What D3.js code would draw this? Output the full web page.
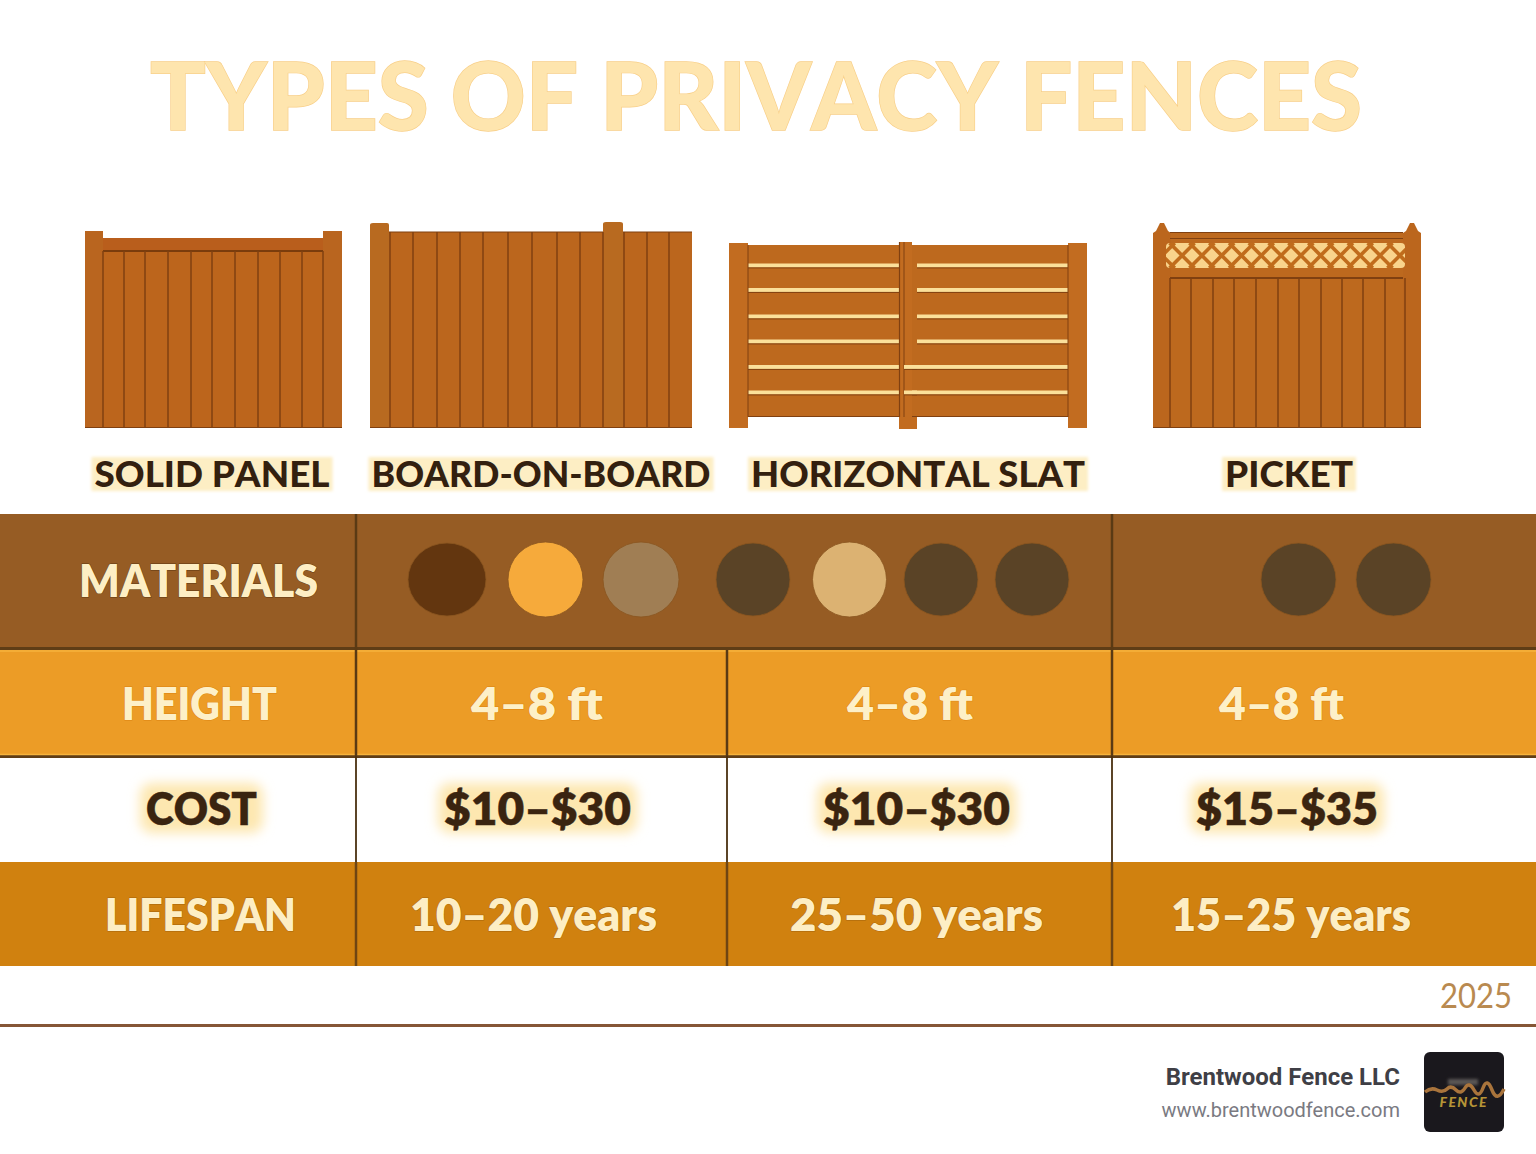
<!DOCTYPE html>
<html><head><meta charset="utf-8">
<script src="https://cdn.jsdelivr.net/npm/d3@7"></script>
<style>html,body{margin:0;padding:0;background:#fff}svg{display:block}text{font-family:Lato,sans-serif;font-kerning:none}</style>
</head><body><div id="c"></div>
<script>
const fenceTypes = ["SOLID PANEL","BOARD-ON-BOARD","HORIZONTAL SLAT","PICKET"];
const rowNames = ["MATERIALS","HEIGHT","COST","LIFESPAN"];
const heightValues = ["4–8 ft","4–8 ft","4–8 ft"];
const costValues = ["$10–$30","$10–$30","$15–$35"];
const lifespanValues = ["10–20 years","25–50 years","15–25 years"];
const materialSwatches = ["#63360f","#f6aa3b","#a07e54","#5a4326","#dcb272","#5a4326","#5a4326","#5a4326","#5a4326"];
const titleText = "TYPES OF PRIVACY FENCES";
const yearText = "2025";

const W=1536,H=1154;
const svg=d3.select("#c").append("svg").attr("width",W).attr("height",H).attr("viewBox",`0 0 ${W} ${H}`);
const defs=svg.append("defs");
defs.append("filter").attr("id","soft").attr("x","-20%").attr("y","-40%").attr("width","140%").attr("height","180%")
  .append("feGaussianBlur").attr("stdDeviation",1.6);
defs.append("filter").attr("id","glow").attr("x","-20%").attr("y","-40%").attr("width","140%").attr("height","180%")
  .append("feGaussianBlur").attr("stdDeviation",6);

const bg=svg.append("g"), gf=svg.append("g"), gt=svg.append("g"), gx=svg.append("g");

function label(g,s,cx,base,size,weight,fill,len,extra={}){
  const t=g.append("text").attr("x",cx).attr("y",base).attr("text-anchor","middle")
    .attr("font-size",size).attr("font-weight",weight).attr("fill",fill).text(s);
  if(len) t.attr("textLength",len).attr("lengthAdjust","spacingAndGlyphs");
  Object.entries(extra).forEach(([k,v])=>t.attr(k,v));
  return t;
}

// Title
label(gt,titleText,756,130,94,900,"#fee5ae",1212,{stroke:"#f8cf88","stroke-width":1.4,"paint-order":"stroke"});

// Fence drawing
const wood="#bc651c", seam="#804010", postC="#b9651f";
const rect=(g,x0,y0,x1,y1,fill)=>g.append("rect").attr("x",x0).attr("y",y0).attr("width",x1-x0).attr("height",y1-y0).attr("fill",fill);
const vline=(g,x,y0,y1,c=seam,w=1.5)=>g.append("line").attr("x1",x).attr("x2",x).attr("y1",y0).attr("y2",y1).attr("stroke",c).attr("stroke-width",w);
const hline=(g,x0,x1,y,c,w)=>g.append("line").attr("x1",x0).attr("x2",x1).attr("y1",y).attr("y2",y).attr("stroke",c).attr("stroke-width",w);
const FLOOR=428;

// Solid panel
(function(){const g=gf.append("g");
 rect(g,103,238,323,FLOOR,wood);
 rect(g,85,231,103,FLOOR,postC); rect(g,323,231,342,FLOOR,postC);
 rect(g,103,238,323,250,"#b95e1c");
 hline(g,103,323,251,"#7a3c0c",2);
 [103,124,145,168,191,212,235,258,280,302,323].forEach(x=>vline(g,x,251,FLOOR));
 hline(g,85,342,FLOOR-.5,seam,1);
})();
// Board on board
(function(){const g=gf.append("g");
 rect(g,389,232,692,FLOOR,"#bb661d");
 hline(g,389,692,232,seam,1.2);
 g.append("path").attr("d","M370 225q0-2 3-2h14q2 0 2 2V428H370Z").attr("fill","#b86a20");
 g.append("path").attr("d","M603 224q0-2 3-2h14q3 0 3 2V428H603Z").attr("fill","#b86a20");
 [390,413,437,460,483,508,532,557,580,603,624,647,669].forEach(x=>vline(g,x,232,FLOOR));
 hline(g,370,692,FLOOR-.5,seam,1);
})();
// Horizontal slat
(function(){const g=gf.append("g");
 rect(g,748,245,1068,417,"#bd691e");
 hline(g,748,1068,416.5,seam,1);
 const slats=[265.5,290,316.5,341.5,367,392.5];
 slats.forEach((y,i)=>{
   rect(g,748,y-2,900,y+2,"#fbe09a"); hline(g,748,900,y+2.4,seam,1);
   const x0=i<4?917:904;
   rect(g,x0,y-2,1068,y+2,"#fbe09a"); hline(g,x0,1068,y+2.4,seam,1);
 });
 rect(g,729,243,748,FLOOR,"#c26c20"); rect(g,1068,243,1087,FLOOR,"#c26c20");
 vline(g,748,245,417,seam,1); vline(g,1068,245,417,seam,1);
 rect(g,900,242,912,417,"#c26c20"); rect(g,899,417,917,429,"#c26c20");
 vline(g,899.5,242,417,seam,1.2); vline(g,904,242,417,seam,1);
 slats.slice(4).forEach(y=>{rect(g,904,y-2,917,y+2,"#fbe09a"); hline(g,904,917,y+2.4,seam,1);});
})();
// Picket
(function(){const g=gf.append("g");
 rect(g,1170,232,1403,FLOOR,"#bd691e");
 const clipId="lat"; defs.append("clipPath").attr("id",clipId).append("rect").attr("x",1166).attr("y",243).attr("width",239).attr("height",25).attr("rx",4);
 const post=x=>`M${x} 233l3-2 4-8h4l4 8 3 2V428H${x}Z`;
 g.append("path").attr("d",post(1153)).attr("fill","#bb661d");
 g.append("path").attr("d",post(1403)).attr("fill","#bb661d");
 const lat=g.append("g").attr("clip-path",`url(#${clipId})`);
 rect(lat,1166,243,1405,268,"#f9d48c");
 d3.range(1130,1450,19.8).forEach(x=>{
   lat.append("line").attr("x1",x).attr("y1",243).attr("x2",x+25).attr("y2",268).attr("stroke","#c06c1c").attr("stroke-width",3.6);
   lat.append("line").attr("x1",x+25).attr("y1",243).attr("x2",x).attr("y2",268).attr("stroke","#c06c1c").attr("stroke-width",3.6);
 });
 hline(g,1170,1403,238.5,seam,1.2); hline(g,1170,1403,232.5,seam,1);
 hline(g,1170,1403,278,seam,1.8);
 [1170,1191,1213,1234,1256,1278,1299,1321,1342,1363,1385,1405].forEach(x=>vline(g,x,278,FLOOR));
 hline(g,1153,1421,FLOOR-.5,seam,1);
})();

// Fence labels
const typeX=d3.scaleOrdinal(fenceTypes,[212,541,918,1289]);
const typeLen=d3.scaleOrdinal(fenceTypes,[235,339,334,128]);
const lab=gt.append("g");
fenceTypes.forEach(t=>{
  const x=typeX(t),l=typeLen(t);
  lab.append("rect").attr("x",x-l/2-3).attr("y",457).attr("width",l+6).attr("height",34).attr("fill","#fdeec4").attr("filter","url(#soft)");
  label(lab,t,x,487,36,900,"#33200f",l);
});

// Table
const rowY=d3.scaleOrdinal(rowNames,[514,650,758,862]);
const rowH=d3.scaleOrdinal(rowNames,[133,105,104,104]);
const rowFill=d3.scaleOrdinal(rowNames,["#965c24","#ec9c26","#ffffff","#d0810f"]);
const rowBase=d3.scaleOrdinal(rowNames,[597,720,825,931]);
const rowText=d3.scaleOrdinal(rowNames,["#fdeec4","#fdf0c8","#3a2410","#fdeec4"]);
const rowStroke=d3.scaleOrdinal(rowNames,["#5f3a12","#dd8410","#3a2410","#a9650c"]);
rowNames.forEach(r=>bg.append("rect").attr("x",0).attr("y",rowY(r)).attr("width",W).attr("height",rowH(r)).attr("fill",rowFill(r)));
hline(bg,0,W,648.5,"#5f3d16",3);
hline(bg,0,W,756.5,"#5f3d16",3);
hline(bg,0,W,651,"#f7b33c",1.5); hline(bg,0,W,754.5,"#f7b33c",1.5);
[356,1112].forEach(x=>{vline(bg,x,514,756,"#5a3a14",2.5);vline(bg,x,756,862,"#4a3010",1.8);vline(bg,x,862,966,"#6e4513",2.5);});
vline(bg,727,650,756,"#5a3a14",2.5);vline(bg,727,756,862,"#4a3010",1.8);vline(bg,727,862,966,"#6e4513",2.5);

const headLen=d3.scaleOrdinal(rowNames,[239,155,111,191]);
const headX=d3.scaleOrdinal(rowNames,[198.5,199.5,201.5,200.5]);
const size=45;
function halo(x,l,base){
  gt.append("rect").attr("x",x-l/2-6).attr("y",base-42).attr("width",l+12).attr("height",50).attr("rx",12).attr("fill","#fde7b0").attr("filter","url(#glow)");
}
const txtStroke=r=>({stroke:rowStroke(r),"stroke-width":r==="COST"?0.4:1,"paint-order":"stroke"});
halo(headX("COST"),headLen("COST"),rowBase("COST"));
rowNames.forEach(r=>label(gt,r,headX(r),rowBase(r),size,800,rowText(r),headLen(r),txtStroke(r)));

const cols=[0,1,2];
const hX=d3.scaleOrdinal(cols,[537,910,1281.5]), hL=d3.scaleOrdinal(cols,[132,126,125]);
const cX=d3.scaleOrdinal(cols,[537.5,916.5,1287]), cL=d3.scaleOrdinal(cols,[187,187,182]);
const lX=d3.scaleOrdinal(cols,[533.5,916.5,1291]), lL=d3.scaleOrdinal(cols,[247,253,240]);
cols.forEach(i=>{
  label(gt,heightValues[i],hX(i),rowBase("HEIGHT"),size,800,"#fdf0c8",hL(i),txtStroke("HEIGHT"));
  halo(cX(i),cL(i),rowBase("COST"));
  label(gt,costValues[i],cX(i),rowBase("COST"),size,800,"#3a2410",cL(i),txtStroke("COST"));
  label(gt,lifespanValues[i],lX(i),rowBase("LIFESPAN"),size,800,"#fdeec4",lL(i),txtStroke("LIFESPAN"));
});

// Material swatches
const swIdx=d3.range(materialSwatches.length);
const swX=d3.scaleOrdinal(swIdx,[447,545.5,641,753,849.5,941,1032,1298.5,1393.5]);
const swRx=d3.scaleOrdinal(swIdx,[39,37.5,38,37,37,37,37,37.5,37.5]);
const swRy=d3.scaleOrdinal(swIdx,[36.5,37.5,37.5,36.5,37.5,36.5,36.5,36.5,36.5]);
gx.selectAll("ellipse.sw").data(swIdx).join("ellipse").attr("class","sw")
  .attr("cx",swX).attr("cy",579.5).attr("rx",swRx).attr("ry",swRy).attr("fill",d=>materialSwatches[d])
  .attr("stroke","#8a5520").attr("stroke-width",0.8);

// Footer
label(gt,yearText,1476,1008,34,400,"#b98a50",72);
hline(bg,0,W,1025.5,"#855636",3);
gt.append("text").attr("x",1400).attr("y",1085).attr("text-anchor","end").attr("font-size",24).attr("font-weight",700).attr("fill","#3f3f46").style("font-family","Roboto").style("font-kerning","normal").text("Brentwood Fence LLC");
gt.append("text").attr("x",1400).attr("y",1117).attr("text-anchor","end").attr("font-size",20).attr("font-weight",400).attr("fill","#7a7a82").style("font-family","Roboto").style("font-kerning","normal").text("www.brentwoodfence.com");
gx.append("rect").attr("x",1424).attr("y",1052).attr("width",80).attr("height",80).attr("rx",6).attr("fill","#1a181d");
gx.append("rect").attr("x",1448).attr("y",1079).attr("width",30).attr("height",6).attr("fill","#5a5654").attr("filter","url(#soft)");
gx.append("path").attr("d","M1425 1092q6-5 12-2t10-1 9 1 9-2 9 2 9-2 9 2 12-1").attr("fill","none").attr("stroke","#a9743c").attr("stroke-width",3.5);
gx.append("text").attr("x",1463).attr("y",1107).attr("text-anchor","middle").attr("font-size",14).attr("font-weight",900).attr("font-style","italic").attr("fill","#b59436").attr("textLength",47).text("FENCE");
</script></body></html>
